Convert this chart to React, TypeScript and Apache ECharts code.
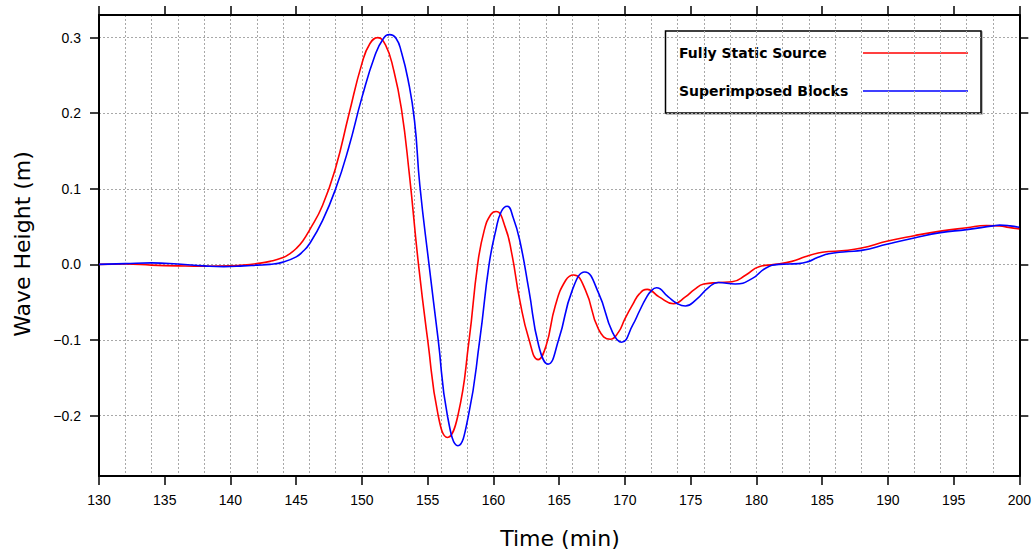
import React, { useEffect, useRef } from "react";
import * as echarts from "echarts";

// Fully Static Source (red)
const staticTimes = [
  130, 132, 134, 136, 138, 140, 141, 142, 143, 144, 144.5, 145, 145.5, 146, 147, 148, 149, 150,
  150.6, 151.2, 151.8, 152.4, 153, 153.6, 154.3, 155.0, 155.8, 156.5, 157.3, 158.15,
  158.8, 159.3, 159.8, 160.2, 160.9, 161.4, 162.0, 162.7, 163.4, 164.0, 164.7, 165.5,
  166.1, 167.0, 168.0, 168.9, 169.5, 170.0, 170.6, 171.1, 171.7, 172.6, 173.7, 174.6,
  175.3, 176.0, 177.1, 178.15, 179.2, 180.2, 181.4, 182.7, 183.7, 184.7, 185.5, 186.5, 188,
  190, 192, 194, 196, 197.5, 198.5, 199.2, 200,
];
const staticHeights = [
  0, 0.0005, -0.001, -0.002, -0.0025, -0.002, -0.001, 0.001, 0.004, 0.009, 0.014, 0.021, 0.031, 0.045, 0.078, 0.128, 0.198, 0.266,
  0.292, 0.300, 0.290, 0.258, 0.206, 0.120, 0.0, -0.1, -0.2, -0.229, -0.2, -0.1,
  0.0, 0.045, 0.066, 0.070, 0.049, 0.014, -0.047, -0.099, -0.126, -0.108, -0.055, -0.021,
  -0.014, -0.034, -0.086, -0.099, -0.090, -0.072, -0.053, -0.039, -0.033, -0.043, -0.052, -0.043,
  -0.033, -0.026, -0.024, -0.023, -0.014, -0.003, 0.0, 0.004, 0.010, 0.015, 0.017, 0.018, 0.0216,
  0.031, 0.038, 0.044, 0.0485, 0.0515, 0.051, 0.049, 0.047,
];

// Superimposed Blocks (blue)
const blockTimes = [
  130, 132, 134, 136, 138, 139.5, 141, 142, 143, 144, 145, 145.5, 146, 147, 148, 149, 150,
  151, 151.6, 152.1, 152.6, 153, 153.5, 154, 154.4, 155.1, 155.8, 156.5, 157.3, 158.1,
  158.96, 159.67, 160.18, 160.6, 161.05, 161.5, 162.0, 162.7, 163.45, 164.15, 164.97,
  166.0, 166.95, 168.0, 169.06, 169.75, 170.6, 171.1, 171.6, 172.0, 172.4, 173.3, 174.0, 174.6,
  175.4, 176.4, 177.1, 178.4, 179.7, 180.7, 181.7, 183.2, 184.0, 184.5, 185, 185.5, 186, 187, 188, 190,
  192, 194, 196, 198, 198.5, 199.3, 200,
];
const blockHeights = [
  0, 0.001, 0.002, 0.0005, -0.002, -0.003, -0.002, -0.001, 0.0, 0.003, 0.010, 0.017, 0.027, 0.058, 0.100, 0.155, 0.221,
  0.277, 0.298, 0.304, 0.299, 0.281, 0.245, 0.19, 0.105, 0.0, -0.1, -0.2, -0.240, -0.2,
  -0.1, 0.0, 0.045, 0.070, 0.077, 0.062, 0.032, -0.034, -0.108, -0.132, -0.099,
  -0.034, -0.010, -0.038, -0.090, -0.103, -0.080, -0.062, -0.045, -0.035, -0.031, -0.043, -0.052, -0.055,
  -0.047, -0.030, -0.024, -0.026, -0.0185, -0.005, 0.0, 0.001, 0.004, 0.008, 0.0115, 0.014, 0.0155, 0.017, 0.0185, 0.027,
  0.035, 0.042, 0.046, 0.051, 0.052, 0.051, 0.049,
];

const yTickValues = [-0.2, -0.1, 0, 0.1, 0.2, 0.3];
const seriesNames = ["Fully Static Source", "Superimposed Blocks"];
const seriesColors = ["#ff0000", "#0000ff"];

const FONT = "'Liberation Sans', Arial, sans-serif";
const TITLE_FONT = "'DejaVu Sans', sans-serif";

export default function App() {
  const ref = useRef<HTMLDivElement>(null);
  useEffect(() => {
    if (!ref.current) return;
    const chart = echarts.init(ref.current, undefined, { renderer: "svg" });
    const fmt = (v: number) => {
      const s = Math.abs(v) < 1e-9 ? "0.0" : v.toFixed(1);
      return s.replace("-", "\u2212");
    };
    const gridLine = { show: true, lineStyle: { color: "#a8a8a8", type: [2, 2] as any, width: 1 } };
    const frameLine = { show: true, onZero: false, lineStyle: { color: "#000", width: 2 } };
    const outTick = { show: true, inside: false, length: 9, lineStyle: { color: "#000", width: 1.5 } };
    chart.setOption({
      animation: false,
      backgroundColor: "#fff",
      grid: { left: 99, top: 15, width: 922, height: 461, containLabel: false },
      xAxis: [
        {
          type: "value", position: "bottom", min: 130, max: 200, interval: 5,
          axisLine: frameLine, axisTick: outTick,
          axisLabel: { show: true, margin: 17, color: "#000", fontSize: 14, fontFamily: FONT },
          splitLine: { show: false },
        },
        {
          type: "value", position: "top", min: 130, max: 200, interval: 5,
          axisLine: frameLine, axisTick: outTick, axisLabel: { show: false }, splitLine: { show: false },
        },
        {
          type: "value", position: "bottom", min: 130, max: 200, interval: 2,
          axisLine: { show: false }, axisTick: { show: false }, axisLabel: { show: false },
          splitLine: gridLine,
        },
      ],
      yAxis: [
        {
          type: "value", position: "left", min: -0.28, max: 0.33,
          axisLine: frameLine,
          axisTick: { ...outTick, customValues: yTickValues },
          axisLabel: {
            show: true, margin: 18, color: "#000", fontSize: 14, fontFamily: FONT,
            customValues: yTickValues, formatter: fmt,
          },
          splitLine: gridLine,
        },
        {
          type: "value", position: "right", min: -0.28, max: 0.33,
          axisLine: frameLine,
          axisTick: { ...outTick, customValues: yTickValues },
          axisLabel: { show: false },
          splitLine: { show: false },
        },
      ],
      series: [
        {
          name: seriesNames[0], type: "line", xAxisIndex: 0, yAxisIndex: 0,
          data: staticTimes.map((t, i) => [t, staticHeights[i]]),
          showSymbol: false, smooth: 0.5, lineStyle: { color: seriesColors[0], width: 1.6 },
          itemStyle: { color: seriesColors[0] },
        },
        {
          name: seriesNames[1], type: "line", xAxisIndex: 0, yAxisIndex: 0,
          data: blockTimes.map((t, i) => [t, blockHeights[i]]),
          showSymbol: false, smooth: 0.5, lineStyle: { color: seriesColors[1], width: 1.6 },
          itemStyle: { color: seriesColors[1] },
        },
      ],
      graphic: [
        {
          type: "text", x: 560, y: 538,
          style: { text: "Time (min)", fontSize: 22, fontFamily: TITLE_FONT, fill: "#000", align: "center", verticalAlign: "middle" },
        },
        {
          type: "text", x: 22, y: 244, rotation: Math.PI / 2,
          style: { text: "Wave Height (m)", fontSize: 22, fontFamily: TITLE_FONT, fill: "#000", align: "center", verticalAlign: "middle" },
        },
        {
          type: "group", z: 100,
          children: [
            {
              type: "rect", shape: { x: 665.5, y: 31, width: 315.5, height: 82 },
              style: { fill: "#fff", stroke: "#000", lineWidth: 1.5, shadowColor: "rgba(0,0,0,0.35)", shadowOffsetX: 1, shadowOffsetY: 1, shadowBlur: 1 },
            },
            {
              type: "text", x: 679, y: 53,
              style: { text: seriesNames[0], fontSize: 14, fontWeight: "bold", fontFamily: TITLE_FONT, fill: "#000", verticalAlign: "middle" },
            },
            {
              type: "text", x: 679, y: 91,
              style: { text: seriesNames[1], fontSize: 14, fontWeight: "bold", fontFamily: TITLE_FONT, fill: "#000", verticalAlign: "middle" },
            },
            { type: "line", shape: { x1: 863, y1: 53, x2: 968, y2: 53 }, style: { stroke: seriesColors[0], lineWidth: 1.6 } },
            { type: "line", shape: { x1: 863, y1: 91, x2: 968, y2: 91 }, style: { stroke: seriesColors[1], lineWidth: 1.6 } },
          ],
        },
      ],
    });
    return () => chart.dispose();
  }, []);
  return (
    <div
      ref={ref}
      style={{ position: "fixed", left: 0, top: 0, width: 1034, height: 550, background: "#fff" }}
    />
  );
}
